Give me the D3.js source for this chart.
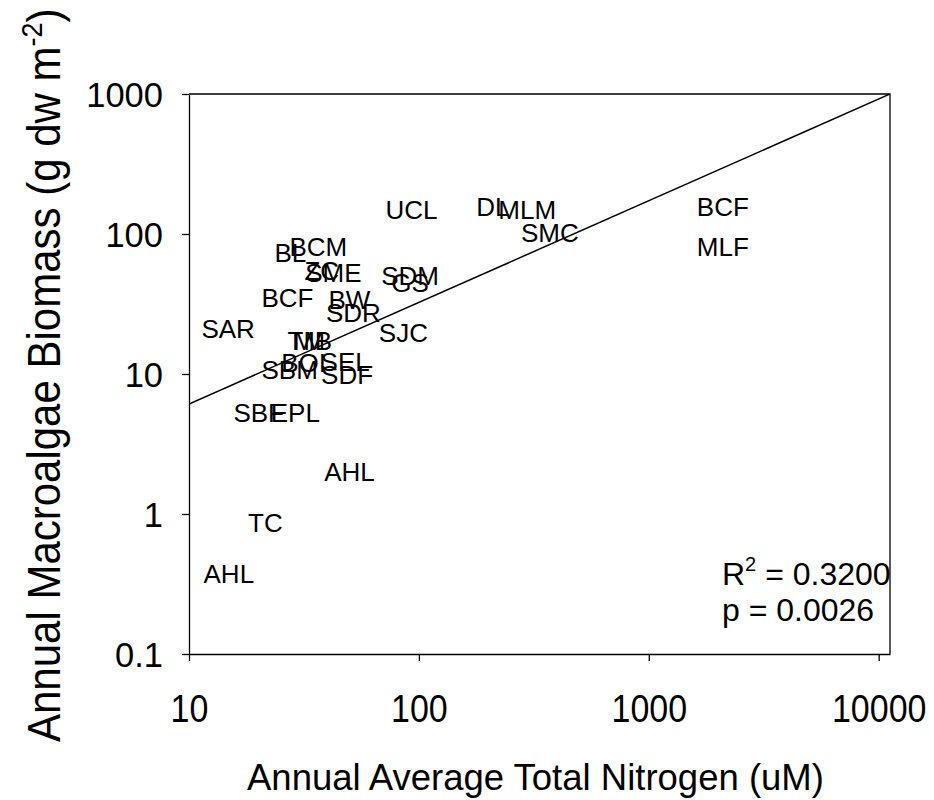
<!DOCTYPE html>
<html>
<head>
<meta charset="utf-8">
<script src="https://cdn.jsdelivr.net/npm/d3@7"></script>
<style>
  body { margin: 0; background: #fff; }
  svg text { font-family: Arial, "Liberation Sans", sans-serif; fill: #000; }
  .axis path, .axis line { stroke: #000; stroke-width: 1.3; }
</style>
</head>
<body>
<div id="chart"></div>
<script>
// site labels with annual average total nitrogen (uM) and macroalgae biomass (g dw m-2)
var sites = ['UCL', 'DL', 'MLM', 'SMC', 'BCF', 'MLF', 'BL', 'BCM', 'ZC', 'SME',
             'SDM', 'GS', 'BCF', 'BW', 'SDR', 'SAR', 'SJC', 'TM', 'MB', 'BOI',
             'SEL', 'SBM', 'SDF', 'SBF', 'EPL', 'AHL', 'TC', 'AHL'];
var nitrogen = [92.9, 210, 296, 371, 2099, 2099, 27.6, 36.5, 37.8, 42.5,
                91.5, 91.5, 26.8, 49.9, 51.9, 14.8, 85.6, 32.4, 34.5, 31.5,
                47.8, 27.4, 48.7, 20.1, 29.0, 49.9, 21.5, 14.9];
var biomass = [150, 157, 150, 102.6, 156.7, 81.2, 73.2, 80.8, 54.7, 52.7,
               50.4, 44.7, 34.9, 33.9, 27.5, 21.1, 19.7, 17.4, 17.4, 12.0,
               12.2, 10.8, 9.9, 5.26, 5.26, 2.0, 0.863, 0.373];

// regression line end points
var fitN = [10, 11200];
var fitB = [6.1, 1000];

var xTicks = [10, 100, 1000, 10000];
var yTicks = [0.1, 1, 10, 100, 1000];

var margin = {top: 94, right: 44, bottom: 146, left: 189},
    width = 934 - margin.left - margin.right,
    height = 800 - margin.top - margin.bottom;

var x = d3.scaleLog()
    .domain( [ 10, 11200 ] )
    .range( [ 0, width ] );

var y = d3.scaleLog()
    .domain( [ 0.1, 1000 ] )
    .range( [ height, 0 ] );

var svg = d3.select( '#chart' )
  .append( 'svg' )
    .attr( 'width', 934 )
    .attr( 'height', 800 );

var g = svg.append( 'g' )
    .attr( 'transform', 'translate(' + margin.left + ',' + margin.top + ')' );

// frame top and right
g.append( 'path' )
    .attr( 'd', 'M0,0H' + width + 'V' + height )
    .attr( 'fill', 'none' )
    .attr( 'stroke', '#000' )
    .attr( 'stroke-width', 1.3 );

var xAxis = g.append( 'g' )
    .attr( 'class', 'x axis' )
    .attr( 'transform', 'translate(0,' + height + ')' )
    .call( d3.axisBottom( x )
      .tickValues( xTicks )
      .tickSize( 7 )
      .tickSizeOuter( 0 )
      .tickFormat( d3.format( 'd' ) ) );

xAxis.selectAll( 'text' )
    .attr( 'y', null )
    .attr( 'dy', null )
    .attr( 'transform', 'translate(0,67.5) scale(1,1.15)' )
    .style( 'font-size', '34px' );

var yAxis = g.append( 'g' )
    .attr( 'class', 'y axis' )
    .call( d3.axisLeft( y )
      .tickValues( yTicks )
      .tickSize( 7 )
      .tickSizeOuter( 0 )
      .tickFormat( function( d ) { return d < 1 ? d3.format( '.1f' )( d ) : d3.format( 'd' )( d ); } ) );

yAxis.selectAll( 'text' )
    .attr( 'x', -26 )
    .attr( 'dy', null )
    .attr( 'y', 12.5 )
    .style( 'font-size', '34.5px' );

g.selectAll( '.domain' ).attr( 'stroke-width', 1.3 );

// regression line
g.append( 'clipPath' ).attr( 'id', 'plot-clip' )
  .append( 'rect' ).attr( 'width', width ).attr( 'height', height );

var line = d3.line()
    .x( function( d ) { return x( d[0] ); } )
    .y( function( d ) { return y( d[1] ); } );

g.append( 'path' )
    .datum( d3.zip( fitN, fitB ) )
    .attr( 'clip-path', 'url(#plot-clip)' )
    .attr( 'd', line )
    .attr( 'fill', 'none' )
    .attr( 'stroke', '#000' )
    .attr( 'stroke-width', 1.5 );

// site labels drawn at data points
g.selectAll( 'text.site' )
    .data( d3.range( sites.length ) )
  .enter().append( 'text' )
    .attr( 'class', 'site' )
    .attr( 'x', function( i ) { return x( nitrogen[i] ); } )
    .attr( 'y', function( i ) { return y( biomass[i] ); } )
    .attr( 'dy', '0.36em' )
    .attr( 'text-anchor', 'middle' )
    .style( 'font-size', '26px' )
    .text( function( i ) { return sites[i]; } );

// stats
var r2 = svg.append( 'text' )
    .attr( 'x', 722 )
    .attr( 'y', 585 )
    .style( 'font-size', '32px' );
r2.append( 'tspan' ).text( 'R' );
r2.append( 'tspan' ).attr( 'dy', -14 ).style( 'font-size', '20px' ).text( '2' );
r2.append( 'tspan' ).attr( 'dy', 14 ).text( ' = 0.3200' );

svg.append( 'text' )
    .attr( 'x', 722 )
    .attr( 'y', 621 )
    .style( 'font-size', '32px' )
    .text( 'p = 0.0026' );

// axis titles
svg.append( 'text' )
    .attr( 'x', 247 )
    .attr( 'y', 790 )
    .style( 'font-size', '36.5px' )
    .text( 'Annual Average Total Nitrogen (uM)' );

var yTitle = svg.append( 'text' )
    .attr( 'transform', 'translate(60,742) rotate(-90) scale(1,1.08)' )
    .style( 'font-size', '42px' );
yTitle.append( 'tspan' ).text( 'Annual Macroalgae Biomass (g dw m' );
yTitle.append( 'tspan' ).attr( 'dy', -17 ).style( 'font-size', '27px' ).text( '-2' );
yTitle.append( 'tspan' ).attr( 'dy', 17 ).text( ')' );
</script>
</body>
</html>
